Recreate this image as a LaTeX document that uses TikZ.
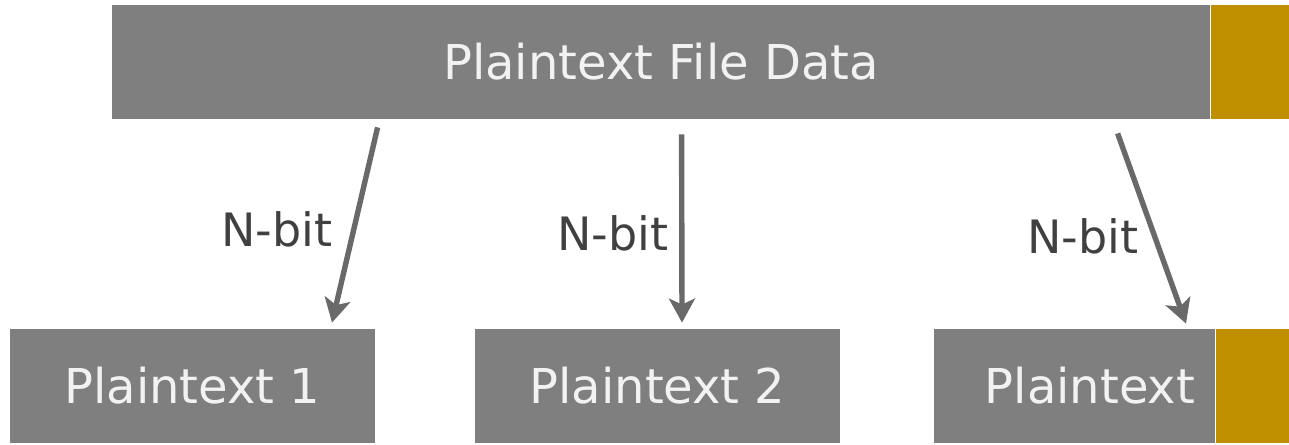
\documentclass[tikz,border=0pt]{standalone}
\usepackage{fontspec}
\setmainfont{DejaVu Sans}
\usetikzlibrary{arrows.meta,positioning,calc}
\definecolor{boxgray}{RGB}{127,127,127}
\definecolor{padgold}{RGB}{191,143,0}
\definecolor{arrowgray}{RGB}{105,105,105}
\definecolor{labelgray}{RGB}{64,64,64}

\begin{document}
\begin{tikzpicture}[x=0.5pt,y=-0.5pt,>={Stealth[length=12pt,width=13pt,inset=3pt]}]
\tikzstyle{blk}=[fill=boxgray,text=white!95!black,inner sep=0pt,minimum height=57pt,font=\fontsize{24}{28}\selectfont]
\tikzstyle{pad}=[fill=padgold,inner sep=0pt,minimum height=57pt]
\tikzstyle{lbl}=[text=labelgray,inner sep=0pt,font=\fontsize{23}{28}\selectfont]
\tikzstyle{arr}=[draw=arrowgray,line width=2.7pt,->]
\useasboundingbox (0,0) rectangle (1289,444);
\clip (0,0) rectangle (1289,444);
\node[blk,minimum width=549pt] (data) at (661,62) {Plaintext File Data};
\node[pad,minimum width=45pt,right=0pt of data] (datapad) {};
\node[blk,minimum width=182.5pt] (p1) at (192.5,386) {Plaintext 1};
\node[blk,minimum width=182.5pt] (p2) at (657.5,386) {Plaintext 2};
\node[blk,minimum width=140.5pt] (p3) at (1074.5,386) {};
\node[pad,minimum width=45pt,right=0pt of p3] (p3pad) {};
\node[blk,fill=none] (t3) at (1090,386) {Plaintext};
\draw[arr] ($(data.south west)+(266,8)$) -- ($(p1.north)+(139.5,-6)$);
\draw[arr] ($(data.south west)+(570,15)$) -- ($(p2.north)+(24.5,-6)$);
\draw[arr] ($(data.south west)+(1006,14)$) -- ($(p3.north)+(111.5,-5)$);
\node[lbl] (n1) at (277,229) {N-bit};
\node[lbl] (n2) at (613,233) {N-bit};
\node[lbl] (n3) at (1083,236) {N-bit};
\end{tikzpicture}
\end{document}
